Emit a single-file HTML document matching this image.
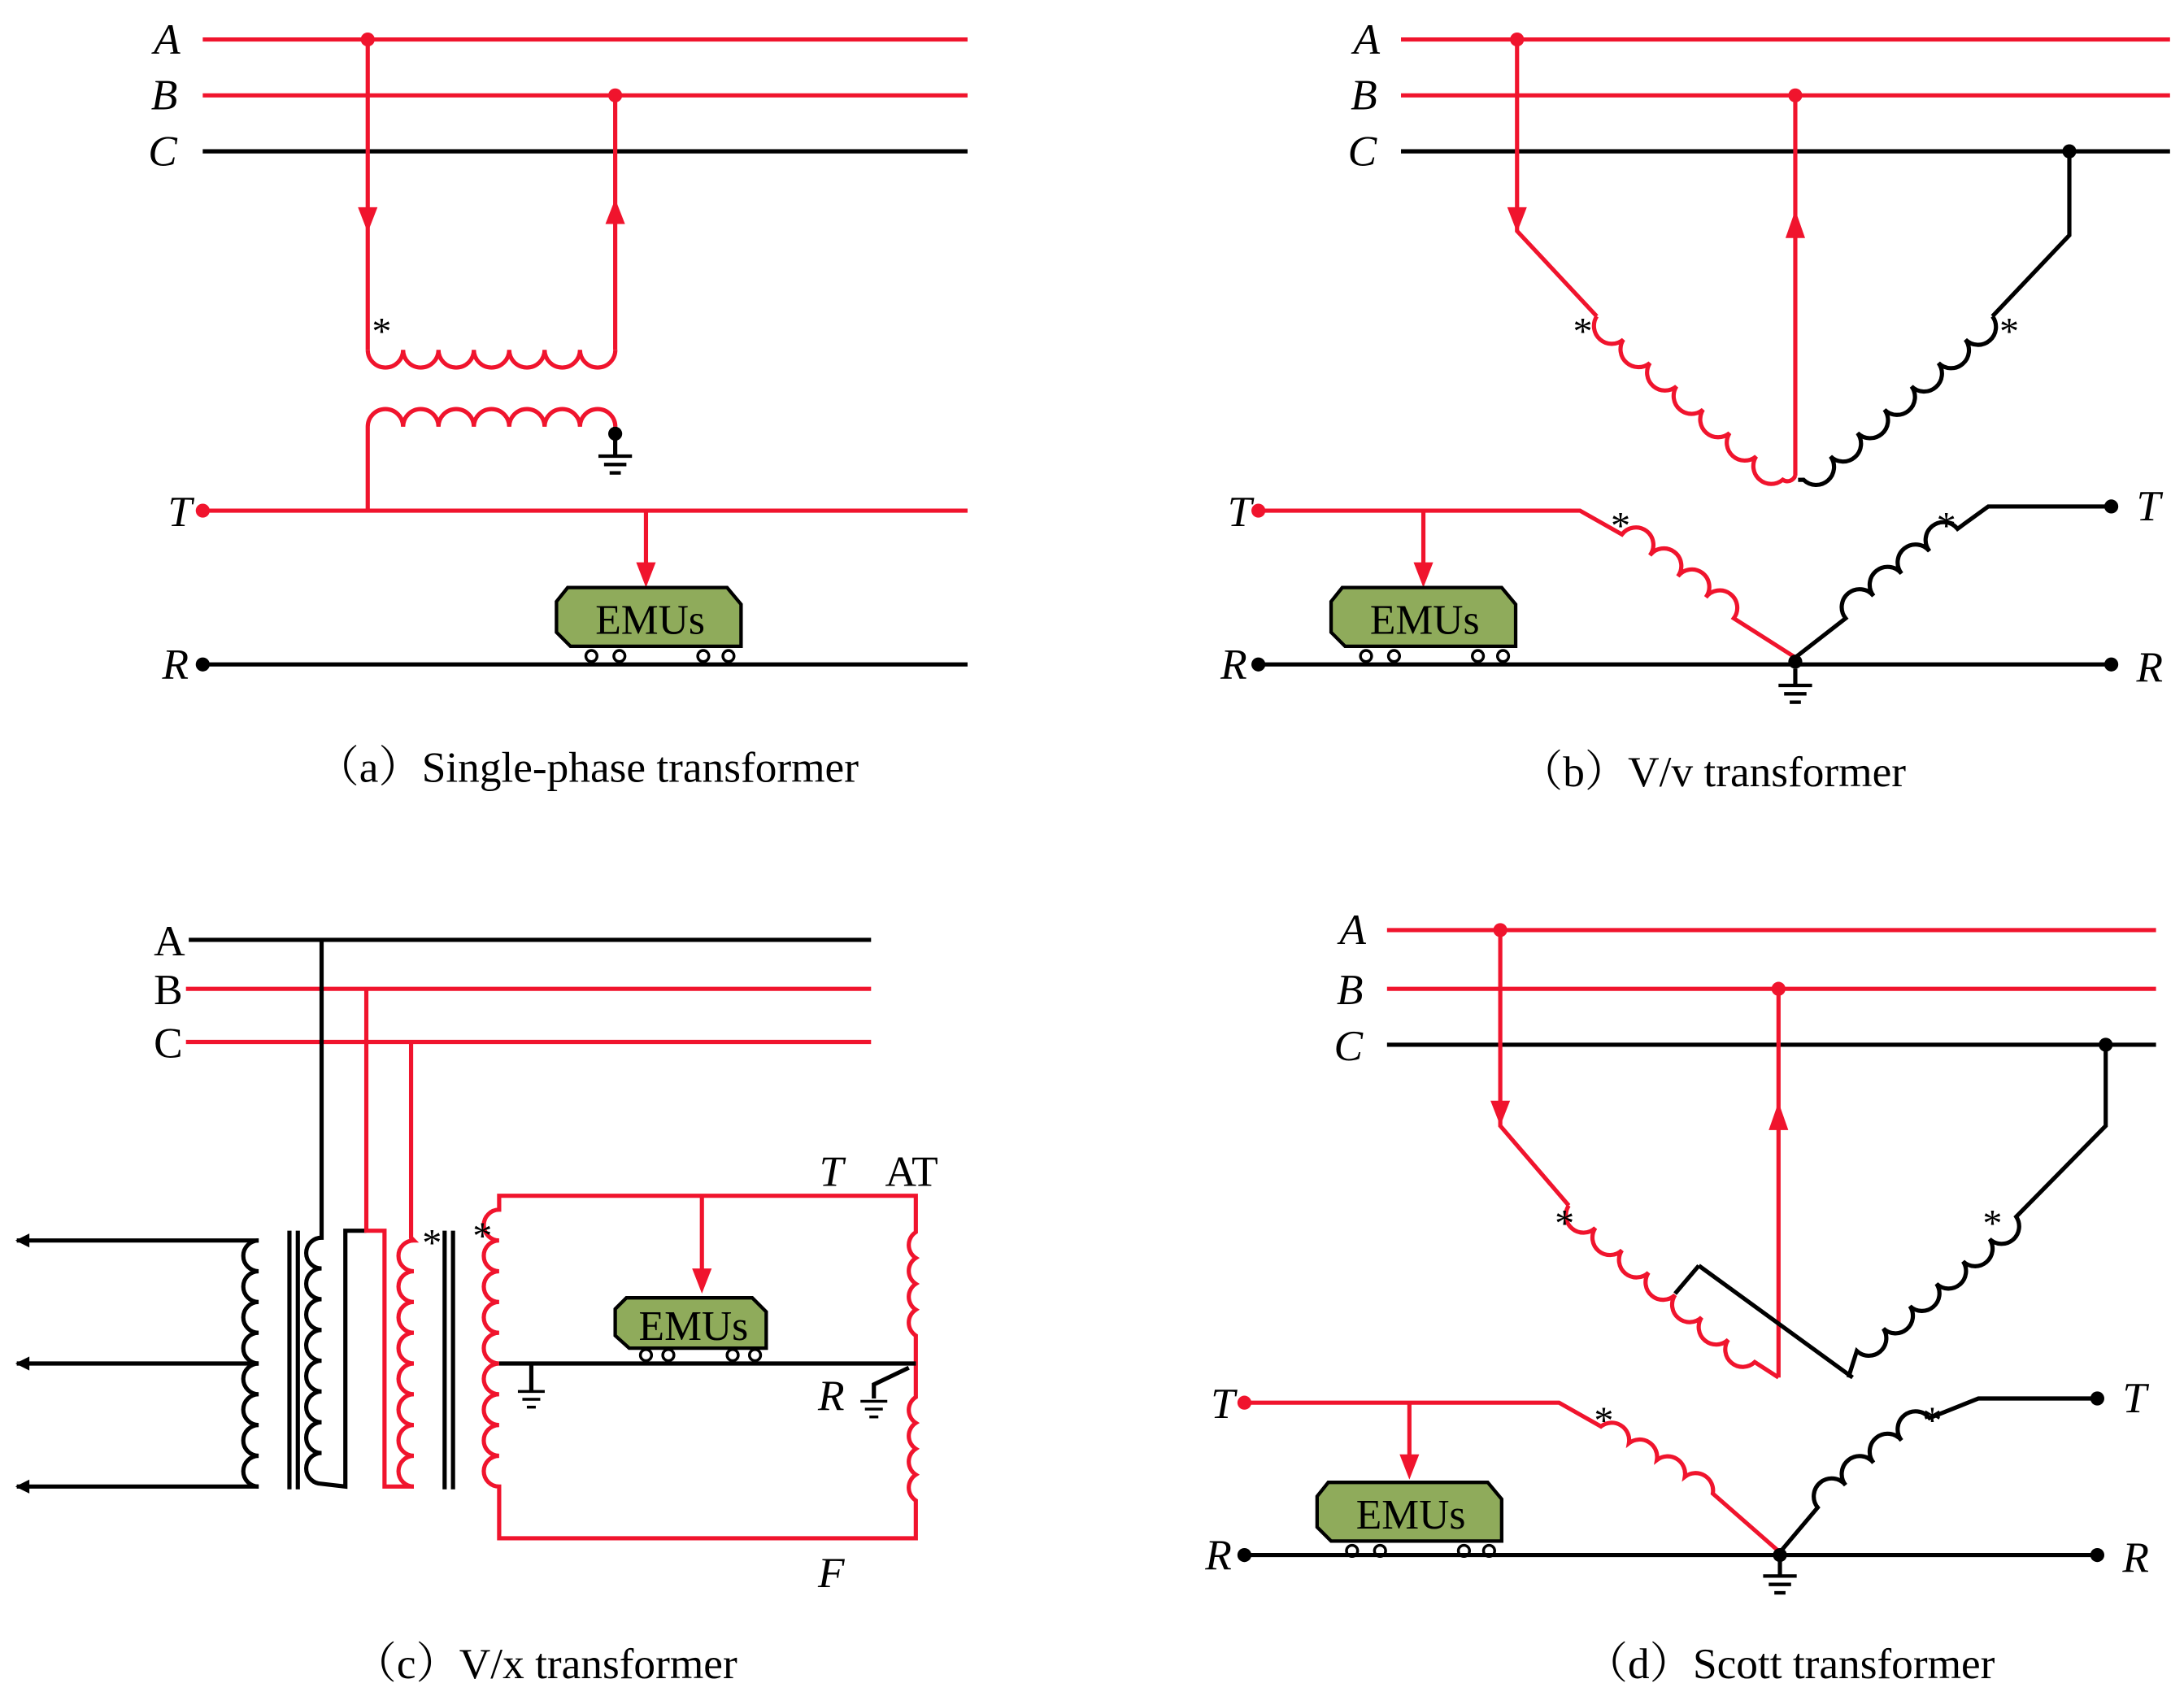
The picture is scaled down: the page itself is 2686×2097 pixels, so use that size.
<!DOCTYPE html>
<html><head><meta charset="utf-8"><style>
html,body{margin:0;padding:0;background:#fff}
svg{display:block}
text{font-family:"Liberation Serif","Noto Serif CJK SC",serif}
.r{stroke:#f0142d;fill:none;stroke-width:3}
.k{stroke:#000;fill:none;stroke-width:3}
.lab{font-size:31px;font-style:italic}
.cap{font-size:31px}
.emu{fill:#8fab5b;stroke:#000;stroke-width:2.5}
</style></head><body>
<svg width="2686" height="2097" viewBox="0 0 1562 1219" xmlns="http://www.w3.org/2000/svg">
<defs>
<marker id="ak" viewBox="0 0 10 10" refX="9" refY="5" markerWidth="14" markerHeight="10" orient="auto" markerUnits="userSpaceOnUse"><path d="M0,0 L10,5 L0,10 z" fill="#000"/></marker>
<g id="gnd"><line x1="0" y1="0" x2="0" y2="12" class="k" stroke-width="2.5"/><line x1="-12" y1="12" x2="12" y2="12" stroke="#000" stroke-width="2.5"/><line x1="-8" y1="18" x2="8" y2="18" stroke="#000" stroke-width="2.5"/><line x1="-4" y1="24" x2="4" y2="24" stroke="#000" stroke-width="2.5"/></g>
</defs>

<!-- ===== (a) ===== -->
<text class="lab" x="110" y="38">A</text><text class="lab" x="108" y="78">B</text><text class="lab" x="106" y="118">C</text>
<line class="r" x1="145" y1="28" x2="692" y2="28"/><line class="r" x1="145" y1="68" x2="692" y2="68"/><line class="k" x1="145" y1="108" x2="692" y2="108"/>
<circle cx="263" cy="28" r="5" fill="#f0142d"/><circle cx="440" cy="68" r="5" fill="#f0142d"/>
<line class="r" x1="263" y1="28" x2="263" y2="250"/><path d="M256,148 L263,166 L270,148z" fill="#f0142d"/>
<line class="r" x1="440" y1="68" x2="440" y2="250"/><path d="M433,160 L440,142 L447,160z" fill="#f0142d"/>
<path class="r" d="M263,250 a12.6,12.6 0 0 0 25.3,0 a12.6,12.6 0 0 0 25.3,0 a12.6,12.6 0 0 0 25.3,0 a12.6,12.6 0 0 0 25.3,0 a12.6,12.6 0 0 0 25.3,0 a12.6,12.6 0 0 0 25.3,0 a12.6,12.6 0 0 0 25.3,0"/>
<text x="266" y="246" font-size="28">*</text>
<path class="r" d="M263,365 L263,305 a12.6,12.6 0 0 1 25.3,0 a12.6,12.6 0 0 1 25.3,0 a12.6,12.6 0 0 1 25.3,0 a12.6,12.6 0 0 1 25.3,0 a12.6,12.6 0 0 1 25.3,0 a12.6,12.6 0 0 1 25.3,0 a12.6,12.6 0 0 1 25.3,0"/>
<line class="k" x1="440" y1="305" x2="440" y2="315"/><circle cx="440" cy="310" r="5"/>
<use href="#gnd" x="440" y="314"/>
<text class="lab" x="120" y="376">T</text><circle cx="145" cy="365" r="5" fill="#f0142d"/>
<line class="r" x1="145" y1="365" x2="692" y2="365"/>
<line class="r" x1="462" y1="365" x2="462" y2="405"/><path d="M455,402 L462,420 L469,402z" fill="#f0142d"/>
<path class="emu" d="M406,420 L520,420 L530,432 L530,462 L408,462 L398,452 L398,430z"/>
<text x="465" y="453" font-size="30" text-anchor="middle">EMUs</text>
<g fill="#fff" stroke="#000" stroke-width="2"><circle cx="423" cy="469" r="4"/><circle cx="443" cy="469" r="4"/><circle cx="503" cy="469" r="4"/><circle cx="521" cy="469" r="4"/></g>
<text class="lab" x="116" y="485">R</text><circle cx="145" cy="475" r="5"/>
<line class="k" x1="145" y1="475" x2="692" y2="475"/>
<text class="cap" x="420" y="559" text-anchor="middle">（a）Single-phase transformer</text>

<!-- ===== (b) ===== -->
<text class="lab" x="968" y="38">A</text><text class="lab" x="966" y="78">B</text><text class="lab" x="964" y="118">C</text>
<line class="r" x1="1002" y1="28" x2="1552" y2="28"/><line class="r" x1="1002" y1="68" x2="1552" y2="68"/><line class="k" x1="1002" y1="108" x2="1552" y2="108"/>
<circle cx="1085" cy="28" r="5" fill="#f0142d"/><circle cx="1284" cy="68" r="5" fill="#f0142d"/><circle cx="1480" cy="108" r="5"/>
<path class="r" d="M1085,28 L1085,165 L1142,226"/><path d="M1078,148 L1085,166 L1092,148z" fill="#f0142d"/>
<path class="r" d="M1142,226 a12.8,12.8 0 0 0 19,16.7 a12.8,12.8 0 0 0 19,16.7 a12.8,12.8 0 0 0 19,16.7 a12.8,12.8 0 0 0 19,16.7 a12.8,12.8 0 0 0 19,16.7 a12.8,12.8 0 0 0 19,16.7 a12.8,12.8 0 0 0 19,16.7 a6,6 0 0 0 9,-3"/>
<line class="r" x1="1284" y1="68" x2="1284" y2="340"/><path d="M1277,170 L1284,150 L1291,170z" fill="#f0142d"/>
<path class="k" d="M1480,108 L1480,168 L1425,226"/>
<path class="k" d="M1425,226 a12.8,12.8 0 0 1 -19.3,16.7 a12.8,12.8 0 0 1 -19.3,16.7 a12.8,12.8 0 0 1 -19.3,16.7 a12.8,12.8 0 0 1 -19.3,16.7 a12.8,12.8 0 0 1 -19.3,16.7 a12.8,12.8 0 0 1 -19.3,16.7 a12.8,12.8 0 0 1 -19.3,16.7 L1286,343"/>
<text x="1125" y="246" font-size="28">*</text><text x="1430" y="246" font-size="28">*</text>
<text class="lab" x="878" y="376">T</text><circle cx="900" cy="365" r="5" fill="#f0142d"/>
<path class="r" d="M900,365 L1130,365 L1160,382 a12.5,12.5 0 0 1 20,15 a12.5,12.5 0 0 1 20,15 a12.5,12.5 0 0 1 20,15 a12.5,12.5 0 0 1 20,15 L1284,470"/>
<path class="k" d="M1284,470 L1320,442 a12.5,12.5 0 0 1 20,-16 a12.5,12.5 0 0 1 20,-16 a12.5,12.5 0 0 1 20,-16 a12.5,12.5 0 0 1 20,-16 L1422,362 L1510,362"/>
<circle cx="1510" cy="362" r="5"/><text class="lab" x="1528" y="372">T</text>
<text x="1152" y="385" font-size="28">*</text><text x="1385" y="385" font-size="28">*</text>
<line class="r" x1="1018" y1="365" x2="1018" y2="405"/><path d="M1011,402 L1018,420 L1025,402z" fill="#f0142d"/>
<path class="emu" d="M960,420 L1074,420 L1084,432 L1084,462 L962,462 L952,452 L952,430z"/>
<text x="1019" y="453" font-size="30" text-anchor="middle">EMUs</text>
<g fill="#fff" stroke="#000" stroke-width="2"><circle cx="977" cy="469" r="4"/><circle cx="997" cy="469" r="4"/><circle cx="1057" cy="469" r="4"/><circle cx="1075" cy="469" r="4"/></g>
<text class="lab" x="873" y="485">R</text><circle cx="900" cy="475" r="5"/><circle cx="1510" cy="475" r="5"/><circle cx="1284" cy="473" r="5"/>
<line class="k" x1="900" y1="475" x2="1510" y2="475"/><text class="lab" x="1528" y="487">R</text>
<use href="#gnd" x="1284" y="478"/>
<text class="cap" x="1225" y="562" text-anchor="middle">（b）V/v transformer</text>

<!-- ===== (c) ===== -->
<text class="cap" x="110" y="683">A</text><text class="cap" x="110" y="718">B</text><text class="cap" x="110" y="756">C</text>
<line class="k" x1="135" y1="672" x2="623" y2="672"/><line class="r" x1="133" y1="707" x2="623" y2="707"/><line class="r" x1="133" y1="745" x2="623" y2="745"/>
<g marker-end="url(#ak)"><line class="k" x1="185" y1="887" x2="12" y2="887"/><line class="k" x1="185" y1="975" x2="12" y2="975"/><line class="k" x1="185" y1="1063" x2="12" y2="1063"/></g>
<path class="k" d="M185,887 a11,11 0 0 0 0,22 a11,11 0 0 0 0,22 a11,11 0 0 0 0,22 a11,11 0 0 0 0,22 a11,11 0 0 0 0,22 a11,11 0 0 0 0,22 a11,11 0 0 0 0,22 a11,11 0 0 0 0,22"/>
<line class="k" x1="207" y1="880" x2="207" y2="1065" stroke-width="2"/><line class="k" x1="213" y1="880" x2="213" y2="1065" stroke-width="2"/>
<path class="k" d="M230,672 L230,885 a11,11 0 0 0 0,22 a11,11 0 0 0 0,22 a11,11 0 0 0 0,22 a11,11 0 0 0 0,22 a11,11 0 0 0 0,22 a11,11 0 0 0 0,22 a11,11 0 0 0 0,22 a11,11 0 0 0 0,22 L247,1063 L247,880 L262,880"/>
<path class="r" d="M262,707 L262,880 L275,880 L275,1063 L296,1063"/>
<path class="r" d="M296,1063 a11,11 0 0 1 0,-22 a11,11 0 0 1 0,-22 a11,11 0 0 1 0,-22 a11,11 0 0 1 0,-22 a11,11 0 0 1 0,-22 a11,11 0 0 1 0,-22 a11,11 0 0 1 0,-22 a11,11 0 0 1 0,-22 L294,885 L294,745"/>
<line class="k" x1="318" y1="880" x2="318" y2="1065" stroke-width="2"/><line class="k" x1="324" y1="880" x2="324" y2="1065" stroke-width="2"/>
<path class="r" d="M357,855 L357,865 a11,11 0 0 0 0,22 a11,11 0 0 0 0,22 a11,11 0 0 0 0,22 a11,11 0 0 0 0,22 a11,11 0 0 0 0,22 a11,11 0 0 0 0,22 a11,11 0 0 0 0,22 a11,11 0 0 0 0,22 a11,11 0 0 0 0,22 L357,1100 L655,1100 L655,1073 a11,11 0 0 1 0,-18.5 a11,11 0 0 1 0,-18.5 a11,11 0 0 1 0,-18.5 a11,11 0 0 1 0,-18.5 L655,975 L655,955 a11,11 0 0 1 0,-18.5 a11,11 0 0 1 0,-18.5 a11,11 0 0 1 0,-18.5 a11,11 0 0 1 0,-18.5 L655,855 Z"/>
<text x="302" y="898" font-size="28">*</text><text x="338" y="893" font-size="28">*</text>
<line class="k" x1="357" y1="975" x2="655" y2="975"/>
<line class="k" x1="380" y1="975" x2="380" y2="995" stroke-width="2"/><g transform="translate(380,995) scale(0.8)"><line x1="-12" y1="0" x2="12" y2="0" stroke="#000" stroke-width="2.5"/><line x1="-8" y1="7" x2="8" y2="7" stroke="#000" stroke-width="2.5"/><line x1="-4" y1="14" x2="4" y2="14" stroke="#000" stroke-width="2.5"/></g>
<path class="k" d="M650,978 L625,990 L625,1000" stroke-width="2"/><g transform="translate(625,1002) scale(0.8)"><line x1="-12" y1="0" x2="12" y2="0" stroke="#000" stroke-width="2.5"/><line x1="-8" y1="7" x2="8" y2="7" stroke="#000" stroke-width="2.5"/><line x1="-4" y1="14" x2="4" y2="14" stroke="#000" stroke-width="2.5"/></g>
<line class="r" x1="502" y1="855" x2="502" y2="910"/><path d="M495,907 L502,925 L509,907z" fill="#f0142d"/>
<path class="emu" d="M448,928 L538,928 L548,938 L548,964 L450,964 L440,955 L440,936z"/>
<text x="496" y="958" font-size="30" text-anchor="middle">EMUs</text>
<g fill="#fff" stroke="#000" stroke-width="2"><circle cx="462" cy="969" r="4"/><circle cx="478" cy="969" r="4"/><circle cx="524" cy="969" r="4"/><circle cx="540" cy="969" r="4"/></g>
<text class="lab" x="586" y="848">T</text><text class="cap" x="633" y="848">AT</text>
<text class="lab" x="585" y="1008">R</text><text class="lab" x="585" y="1135">F</text>
<text class="cap" x="390" y="1200" text-anchor="middle">（c）V/x transformer</text>

<!-- ===== (d) ===== -->
<text class="lab" x="958" y="675">A</text><text class="lab" x="956" y="718">B</text><text class="lab" x="954" y="758">C</text>
<line class="r" x1="992" y1="665" x2="1542" y2="665"/><line class="r" x1="992" y1="707" x2="1542" y2="707"/><line class="k" x1="992" y1="747" x2="1542" y2="747"/>
<circle cx="1073" cy="665" r="5" fill="#f0142d"/><circle cx="1272" cy="707" r="5" fill="#f0142d"/><circle cx="1506" cy="747" r="5"/>
<path class="r" d="M1073,665 L1073,805 L1122,862"/><path d="M1066,787 L1073,805 L1080,787z" fill="#f0142d"/>
<path class="r" d="M1122,862 a12.5,12.5 0 0 0 19,16 a12.5,12.5 0 0 0 19,16 a12.5,12.5 0 0 0 19,16 a12.5,12.5 0 0 0 19,16 a12.5,12.5 0 0 0 19,16 a12.5,12.5 0 0 0 19,16 a12.5,12.5 0 0 0 19,16 L1272,985"/>
<line class="r" x1="1272" y1="707" x2="1272" y2="985"/><path d="M1265,808 L1272,788 L1279,808z" fill="#f0142d"/>
<path class="k" d="M1506,747 L1506,805 L1442,870 a12.5,12.5 0 0 1 -19,16 a12.5,12.5 0 0 1 -19,16 a12.5,12.5 0 0 1 -19,16 a12.5,12.5 0 0 1 -19,16 a12.5,12.5 0 0 1 -19,16 a12.5,12.5 0 0 1 -19,16 L1322,985"/>
<line class="k" x1="1215" y1="905" x2="1325" y2="985"/><line class="k" x1="1215" y1="905" x2="1198" y2="925"/>
<text x="1112" y="884" font-size="28">*</text><text x="1418" y="884" font-size="28">*</text>
<text class="lab" x="866" y="1014">T</text><circle cx="890" cy="1003" r="5" fill="#f0142d"/>
<path class="r" d="M890,1003 L1115,1003 L1145,1020 a12.5,12.5 0 0 1 20,12 a12.5,12.5 0 0 1 20,12 a12.5,12.5 0 0 1 20,12 a12.5,12.5 0 0 1 20,12 L1273,1110"/>
<path class="k" d="M1273,1110 L1300,1078 a12.5,12.5 0 0 1 20,-16 a12.5,12.5 0 0 1 20,-16 a12.5,12.5 0 0 1 20,-16 a12.5,12.5 0 0 1 20,-16 L1415,1000 L1500,1000"/>
<circle cx="1500" cy="1000" r="5"/><text class="lab" x="1518" y="1010">T</text>
<text x="1140" y="1025" font-size="28">*</text><text x="1375" y="1025" font-size="28">*</text>
<line class="r" x1="1008" y1="1003" x2="1008" y2="1042"/><path d="M1001,1040 L1008,1058 L1015,1040z" fill="#f0142d"/>
<path class="emu" d="M950,1060 L1064,1060 L1074,1072 L1074,1102 L952,1102 L942,1092 L942,1070z"/>
<text x="1009" y="1093" font-size="30" text-anchor="middle">EMUs</text>
<g fill="#fff" stroke="#000" stroke-width="2"><circle cx="967" cy="1109" r="4"/><circle cx="987" cy="1109" r="4"/><circle cx="1047" cy="1109" r="4"/><circle cx="1065" cy="1109" r="4"/></g>
<text class="lab" x="862" y="1122">R</text><circle cx="890" cy="1112" r="5"/><circle cx="1500" cy="1112" r="5"/><circle cx="1273" cy="1112" r="5"/>
<line class="k" x1="890" y1="1112" x2="1500" y2="1112"/><text class="lab" x="1518" y="1124">R</text>
<use href="#gnd" x="1273" y="1115"/>
<text class="cap" x="1280" y="1200" text-anchor="middle">（d）Scott transformer</text>
</svg>
</body></html>
